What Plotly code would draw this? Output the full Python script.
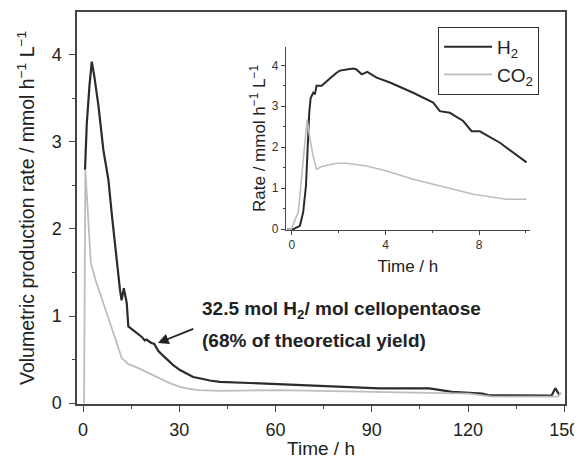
import plotly.graph_objects as go

# Main plot data
h2_x = [0.6, 1.15, 2.0, 2.7, 3.5, 4.8, 6.3, 7.9, 9.0, 9.4, 10.5, 11.5, 12.0, 12.7, 13.6, 14.1, 15.5, 16.7, 17.5, 18.3, 19.2, 19.8, 20.5, 21.3, 22.2, 22.8, 23.4, 24.5, 26, 28, 30.2, 32.5, 34.3, 37, 39.5, 42.6, 45.7, 52, 61.2, 70, 76.8, 85, 92.3, 100, 107.9, 115, 124.4, 126.5, 135, 146, 147.2, 148.5]
h2_y = [2.68, 3.21, 3.65, 3.92, 3.75, 3.41, 2.91, 2.56, 2.15, 1.99, 1.64, 1.30, 1.18, 1.32, 1.15, 0.88, 0.84, 0.80, 0.78, 0.76, 0.72, 0.73, 0.71, 0.69, 0.68, 0.63, 0.60, 0.56, 0.51, 0.44, 0.38, 0.33, 0.30, 0.28, 0.26, 0.245, 0.24, 0.23, 0.22, 0.205, 0.195, 0.18, 0.17, 0.17, 0.17, 0.13, 0.11, 0.09, 0.085, 0.085, 0.17, 0.09]

co2_x = [0.3, 0.5, 0.7, 2.4, 4.0, 6.3, 8.5, 10.5, 12.0, 14.0, 16.7, 20.8, 24.0, 27.0, 30.0, 32.2, 36.0, 42.6, 61.0, 92.3, 120.3, 124.4, 127.6, 148.0, 149.0]
co2_y = [0.0, 1.5, 2.68, 1.61, 1.40, 1.15, 0.92, 0.69, 0.52, 0.45, 0.41, 0.34, 0.28, 0.23, 0.19, 0.17, 0.15, 0.14, 0.15, 0.13, 0.11, 0.09, 0.075, 0.075, 0.12]

# Inset data
ins_h2_x = [-0.2, 0.06, 0.34, 0.48, 0.6, 0.67, 0.74, 0.8, 0.91, 0.98, 1.05, 1.27, 1.45, 1.62, 1.91, 2.05, 2.34, 2.62, 2.76, 2.98, 3.22, 3.62, 4.19, 5.18, 6.04, 6.32, 6.75, 7.32, 7.68, 8.03, 8.89, 10.03]
ins_h2_y = [0.0, 0.0, 0.08, 0.41, 1.06, 1.95, 2.85, 3.2, 3.33, 3.29, 3.5, 3.5, 3.6, 3.68, 3.82, 3.87, 3.9, 3.92, 3.9, 3.78, 3.84, 3.70, 3.58, 3.33, 3.09, 2.88, 2.84, 2.64, 2.39, 2.39, 2.11, 1.63]

ins_co2_x = [-0.2, -0.03, 0.27, 0.41, 0.56, 0.65, 0.77, 0.9, 1.05, 1.27, 1.91, 2.34, 3.19, 4.05, 5.18, 6.6, 7.75, 9.17, 10.03]
ins_co2_y = [0.0, 0.0, 0.41, 1.22, 2.2, 2.68, 2.2, 1.8, 1.46, 1.53, 1.61, 1.61, 1.54, 1.42, 1.22, 1.02, 0.85, 0.73, 0.73]

main_xticks = [0, 30, 60, 90, 120, 150]
main_yticks = [0, 1, 2, 3, 4]
ins_xticks = [0, 4, 8]
ins_yticks = [0, 1, 2, 3, 4]

H2_COLOR = "#2b2b2b"
CO2_COLOR = "#bdbdbd"
AX = "#444444"
FONT = "Liberation Sans, Arial, sans-serif"

fig = go.Figure()
fig.add_trace(go.Scatter(x=h2_x, y=h2_y, mode="lines", name="H<sub>2</sub>",
                         line=dict(color=H2_COLOR, width=2.2), xaxis="x", yaxis="y"))
fig.add_trace(go.Scatter(x=co2_x, y=co2_y, mode="lines", name="CO<sub>2</sub>",
                         line=dict(color=CO2_COLOR, width=1.8), xaxis="x", yaxis="y"))
fig.add_trace(go.Scatter(x=ins_h2_x, y=ins_h2_y, mode="lines", showlegend=False,
                         line=dict(color=H2_COLOR, width=2), xaxis="x2", yaxis="y2"))
fig.add_trace(go.Scatter(x=ins_co2_x, y=ins_co2_y, mode="lines", showlegend=False,
                         line=dict(color=CO2_COLOR, width=1.6), xaxis="x2", yaxis="y2"))

common_axis = dict(showgrid=False, zeroline=False, linecolor=AX, linewidth=1.5, automargin=False,
                   ticks="outside", tickcolor=AX, tickfont=dict(size=18, color="#222"))

# page body has an 8px margin, so the figure is 8px smaller than the window
fig.update_layout(
    width=574, height=451,
    margin=dict(l=69, r=17, t=4, b=55),
    paper_bgcolor="white", plot_bgcolor="white",
    font=dict(family=FONT, color="#222"),
    xaxis=dict(**common_axis, domain=[0, 1], range=[-1.9, 150.2], tickvals=main_xticks,
               ticklen=6, mirror=True, ticklabelstandoff=3,
               minor=dict(dtick=15, tick0=0, ticklen=3, ticks="outside", tickcolor=AX),
               title=dict(text="Time / h", font=dict(size=19), standoff=4)),
    yaxis=dict(**common_axis, domain=[0, 1], range=[-0.01, 4.49], tickvals=main_yticks,
               ticklen=6, mirror=True, ticklabelstandoff=4,
               minor=dict(dtick=0.5, tick0=0, ticklen=3, ticks="outside", tickcolor=AX),
               title=dict(text="Volumetric production rate / mmol h<sup>\u22121</sup> L<sup>\u22121</sup>",
                          font=dict(size=19.5), standoff=12)),
    xaxis2=dict(showgrid=False, zeroline=False, linecolor=AX, linewidth=1, automargin=False,
                ticks="outside", tickcolor=AX, ticklen=4, tickfont=dict(size=12, color="#333"),
                domain=[0.428, 0.928], anchor="y2", range=[-0.26, 10.17], tickvals=ins_xticks,
                minor=dict(dtick=2, tick0=0, ticklen=2, ticks="outside", tickcolor=AX),
                title=dict(text="Time / h", font=dict(size=17), standoff=8)),
    yaxis2=dict(showgrid=False, zeroline=False, linecolor=AX, linewidth=1, automargin=False,
                ticks="outside", tickcolor=AX, ticklen=4, tickfont=dict(size=12, color="#333"),
                domain=[0.444, 0.911], anchor="x2", range=[-0.02, 4.45], tickvals=ins_yticks,
                minor=dict(dtick=0.5, tick0=0, ticklen=2, ticks="outside", tickcolor=AX),
                title=dict(text="Rate / mmol h<sup>\u22121</sup> L<sup>\u22121</sup>",
                           font=dict(size=17), standoff=1)),
    legend=dict(x=0.74, y=0.962, xanchor="left", yanchor="top",
                bordercolor="#333", borderwidth=1, bgcolor="white", itemwidth=48,
                font=dict(size=19, color="#222"), tracegroupgap=0),
    showlegend=True,
)

# annotation text
fig.add_annotation(x=36.4, y=1.07, xref="x", yref="y", xanchor="left", yanchor="middle",
                   text="<b>32.5 mol H<sub>2</sub>/ mol cellopentaose</b>", showarrow=False,
                   font=dict(size=19, color="#222"))
fig.add_annotation(x=36.4, y=0.72, xref="x", yref="y", xanchor="left", yanchor="middle",
                   text="<b>(68% of theoretical yield)</b>", showarrow=False,
                   font=dict(size=19, color="#222"))
fig.add_annotation(x=23.3, y=0.69, xref="x", yref="y", ax=34.8, ay=0.86, axref="x", ayref="y",
                   text="", showarrow=True, arrowhead=2, arrowsize=1.2, arrowwidth=1.8,
                   arrowcolor="#222")

fig.write_html("out.html")
